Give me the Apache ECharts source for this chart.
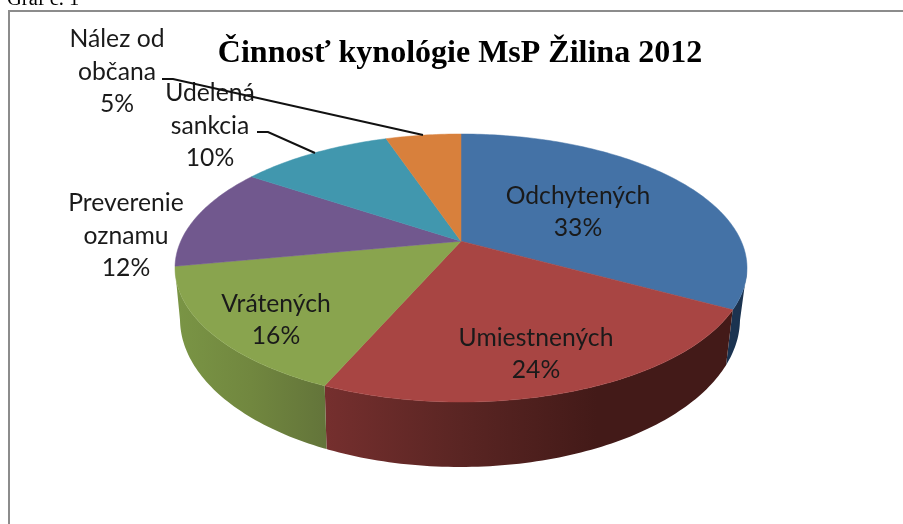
<!DOCTYPE html>
<html>
<head>
<meta charset="utf-8">
<style>
  html, body { margin: 0; padding: 0; background: #fff; }
  #chart { width: 903px; height: 524px; }
</style>
<script src="https://cdn.jsdelivr.net/npm/echarts@6/dist/echarts.min.js"></script>
</head>
<body>
<div id="chart"></div>
<script>
'use strict';

// data
var chartTitle = 'Činnosť kynológie MsP Žilina 2012';
var caption = 'Graf č. 1';
var categories = ['Odchytených', 'Umiestnených', 'Vrátených', 'Preverenie\noznamu', 'Udelená\nsankcia', 'Nález od\nobčana'];
var sliceValues = [33, 23.5, 15.5, 12.4, 10.45, 5.15];
var topColors = ['#4472a6', '#a84543', '#89a44e', '#71588e', '#4197ae', '#d8803c'];
var sideColors = [
  ['#1b3350', '#1b3350'],
  ['#752f2e', '#5a2523', '#431a18', '#431a18'],
  ['#7a9545', '#71873f', '#63743a'],
  ['#4a3a5e', '#4a3a5e'],
  ['#2b6373', '#2b6373'],
  ['#8f5428', '#8f5428']
];

// label centres, and leader lines for the outside labels
var labelSpots = [[578, 212], [536, 354], [276, 320], [126, 236], [210, 126], [117, 72]];
var leaders = [
  null, null, null, null,
  [[257, 132], [268, 132], [315, 153]],
  [[162, 79], [173, 79], [423, 135]]
];

// the tilted pie: top ellipse, bottom ellipse, perspective shift of the apex
var topOval = { cx: 461, cy: 268, rx: 286, ry: 134 };
var bottomOval = { cx: 460, cy: 319, rx: 280, ry: 148 };
var tilt = -0.2;

var total = sliceValues.reduce(function (a, b) { return a + b; }, 0);

function sliceRange(idx) {
  var before = 0;
  for (var i = 0; i < idx; i++) before += sliceValues[i];
  return [before / total * 360, (before + sliceValues[idx]) / total * 360];
}

// angle clockwise from the top of the pie -> position on the unit ellipse
function project(deg) {
  var r = deg * Math.PI / 180;
  var u = Math.sin(r);
  var v = -Math.cos(r);
  var d = 1 + tilt * v;
  return [u * Math.sqrt(1 - tilt * tilt) / d, (v + tilt) / d];
}

function onOval(oval, p) {
  return [oval.cx + oval.rx * p[0], oval.cy + oval.ry * p[1]];
}

function angleSteps(range) {
  var list = [range[0]];
  for (var a = Math.ceil(range[0]); a < range[1]; a++) {
    if (a > range[0]) list.push(a);
  }
  list.push(range[1]);
  return list;
}

function renderSide(params, api) {
  var idx = params.dataIndex;
  var steps = angleSteps(sliceRange(idx)).filter(function (a) {
    return project(a)[1] >= 0;
  });
  if (steps.length < 2) return { type: 'group', children: [] };
  var upper = steps.map(function (a) { return onOval(topOval, project(a)); });
  var lower = steps.map(function (a) { return onOval(bottomOval, project(a)); }).reverse();
  var stops = sideColors[idx].map(function (c, i, arr) {
    return { offset: i / (arr.length - 1), color: c };
  });
  return {
    type: 'polygon',
    shape: { points: upper.concat(lower) },
    style: { fill: new echarts.graphic.LinearGradient(0, 0, 1, 0, stops) }
  };
}

function renderTop(params, api) {
  var idx = params.dataIndex;
  var apex = onOval(topOval, [0, tilt]);
  var rim = angleSteps(sliceRange(idx)).map(function (a) { return onOval(topOval, project(a)); });
  return {
    type: 'polygon',
    shape: { points: [apex].concat(rim) },
    style: { fill: topColors[idx], stroke: topColors[idx], lineWidth: 0.5 }
  };
}

function renderLabel(params, api) {
  var idx = params.dataIndex;
  var children = [{
    type: 'text',
    style: {
      x: labelSpots[idx][0],
      y: labelSpots[idx][1],
      text: categories[idx] + '\n' + Math.round(api.value(0)) + '%',
      font: '24.7px Lato',
      lineHeight: 32.5,
      fill: '#1a1a1a',
      align: 'center',
      verticalAlign: 'middle'
    }
  }];
  if (leaders[idx]) {
    children.push({
      type: 'polyline',
      shape: { points: leaders[idx] },
      style: { fill: null, stroke: '#111', lineWidth: 2 }
    });
  }
  return { type: 'group', children: children };
}

var myChart = echarts.init(document.getElementById('chart'), null, { renderer: 'canvas' });

myChart.setOption({
  backgroundColor: '#fff',
  animation: false,
  title: {
    text: chartTitle,
    left: 455,
    top: 33,
    textAlign: 'center',
    textStyle: { fontFamily: 'Liberation Serif', fontWeight: 'bold', fontSize: 32, color: '#000' }
  },
  graphic: [
    {
      type: 'polyline',
      shape: { points: [[9, 530], [9, 11], [910, 11]] },
      style: { fill: null, stroke: '#8c8c8c', lineWidth: 2 }
    },
    {
      type: 'text',
      style: { x: 7, y: 10, text: caption, font: '20.5px Liberation Serif', fill: '#000', verticalAlign: 'bottom' }
    }
  ],
  series: [
    { type: 'custom', coordinateSystem: 'none', silent: true, z: 1, data: sliceValues, renderItem: renderSide },
    { type: 'custom', coordinateSystem: 'none', silent: true, z: 2, data: sliceValues, renderItem: renderTop },
    { type: 'custom', coordinateSystem: 'none', silent: true, z: 3, data: sliceValues, renderItem: renderLabel }
  ]
});
</script>
</body>
</html>
